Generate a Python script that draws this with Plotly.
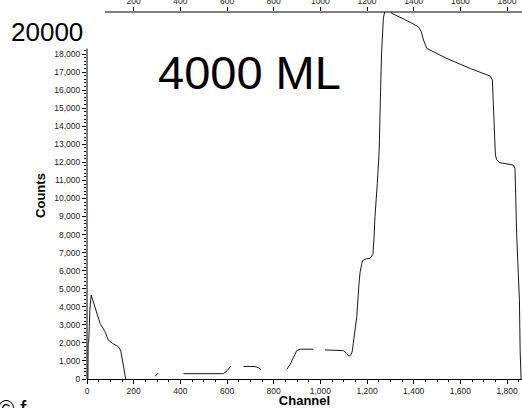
import plotly.graph_objects as go

# ---- data ----
channel = [0, 4, 5, 7, 10, 12, 18, 41, 56, 77, 91, 110, 134, 144, 163, 166,
           None,
           292, 305,
           None,
           413, 584, 600, 616,
           None,
           670, 720, 735, 745,
           None,
           856, 870, 885, 899, 915, 970,
           None,
           1020, 1099, 1112, 1122, 1130, 1136, 1141, 1156, 1165, 1170, 1180, 1195,
           1213, 1225, 1230, 1234, 1244, 1252, 1258, 1262, 1270, 1280, 1298, 1306,
           1360, 1420, 1432, 1442, 1456, 1542, 1642, 1727, 1737, 1742, 1750, 1756,
           1770, 1827, 1834, 1841, 1853, 1856, 1860]
counts = [0, 0, 2000, 2000, 2900, 3800, 4650, 3650, 3080, 2620, 2160, 1970, 1790, 1600, 130, 0,
          None,
          150, 330,
          None,
          295, 295, 450, 720,
          None,
          700, 690, 620, 530,
          None,
          530, 800, 1200, 1580, 1650, 1650,
          None,
          1610, 1570, 1420, 1260, 1320, 1500, 1970, 3450, 5200, 5900, 6550, 6650,
          6680, 6900, 7800, 8990, 10830, 12680, 16000, 18000, 20000, 20600, 20500, 20250,
          19920, 19510, 19250, 18770, 18310, 17750, 17200, 16780, 16560, 14520, 12400, 12130,
          11980, 11850, 11660, 8060, 4370, 1600, 0]

x_ticks = [0, 200, 400, 600, 800, 1000, 1200, 1400, 1600, 1800]
top_ticks = [200, 400, 600, 800, 1000, 1200, 1400, 1600, 1800]
y_ticks = list(range(0, 18001, 1000))
y_minor = list(range(0, 18201, 200))
x_minor = list(range(0, 1851, 50))

X_MAX = 1864
Y_MAX = 20326

FONT = "Liberation Sans, Arial, sans-serif"

fig = go.Figure()
fig.add_trace(go.Scatter(x=channel, y=counts, mode="lines",
                         line=dict(color="#1a1a1a", width=1),
                         connectgaps=False, showlegend=False, hoverinfo="skip"))

fig.update_layout(
    width=522, height=408,
    margin=dict(l=87, r=0, t=12, b=29, autoexpand=False),
    paper_bgcolor="white", plot_bgcolor="white",
    font=dict(family=FONT, color="black", size=9),
    xaxis=dict(
        automargin=False,
        range=[0, X_MAX], showgrid=False, zeroline=False,
        showline=True, linecolor="black", linewidth=1,
        tickmode="array", tickvals=x_ticks, tickformat=",d", separatethousands=True,
        ticks="outside", ticklen=4, tickcolor="black", tickwidth=1,
        tickfont=dict(size=8.5, color="#222"),
        minor=dict(tickmode="array", tickvals=x_minor, ticks="outside", ticklen=2,
                   tickcolor="black", tickwidth=1),
        title=dict(text="<b>Channel</b>", font=dict(size=13, family=FONT), standoff=0),
    ),
    xaxis2=dict(
        automargin=False,
        overlaying="x", side="top", anchor="y", range=[0, X_MAX],
        showgrid=False, zeroline=False, showline=False,
        tickmode="array", tickvals=top_ticks, tickformat="d",
        ticks="outside", ticklen=4, tickcolor="black", tickwidth=1,
        tickfont=dict(size=8.5, color="#222"),
    ),
    yaxis=dict(
        automargin=False,
        range=[0, Y_MAX], showgrid=False, zeroline=False, showline=False,
        tickmode="array", tickvals=y_ticks, tickformat=",d", separatethousands=True,
        ticks="outside", ticklen=4, tickcolor="black", tickwidth=1,
        tickfont=dict(size=8.5, color="#222"),
        minor=dict(tickmode="array", tickvals=y_minor, ticks="outside", ticklen=2,
                   tickcolor="black", tickwidth=1),
        title=dict(text="<b>Counts</b>", font=dict(size=13, family=FONT), standoff=5),
    ),
)

# invisible trace to activate the top axis
fig.add_trace(go.Scatter(x=[0, X_MAX], y=[None, None], xaxis="x2", yaxis="y", mode="lines",
                         showlegend=False, hoverinfo="skip"))

# axis lines (top line starts a little right of the corner, left line stops near 18,000)
fig.add_shape(type="line", xref="x", yref="paper", x0=77, x1=X_MAX, y0=1, y1=1,
              line=dict(color="black", width=1))
fig.add_shape(type="line", xref="paper", yref="y", x0=0, x1=0, y0=0, y1=18300,
              line=dict(color="black", width=1))

fig.add_annotation(text="20000", xref="paper", yref="paper", x=-0.092, y=0.946,
                   xanchor="center", yanchor="middle", showarrow=False,
                   font=dict(size=26, family=FONT, color="black"))
fig.add_annotation(text="4000 ML", xref="paper", yref="paper", x=0.3747, y=0.834,
                   xanchor="center", yanchor="middle", showarrow=False,
                   font=dict(size=47, family=FONT, color="black"))
fig.add_annotation(text="© f", xref="paper", yref="paper", x=-0.172, y=-0.04,
                   xanchor="center", yanchor="top", showarrow=False,
                   font=dict(size=22, family=FONT, color="black"))

fig.write_html("out.html")
